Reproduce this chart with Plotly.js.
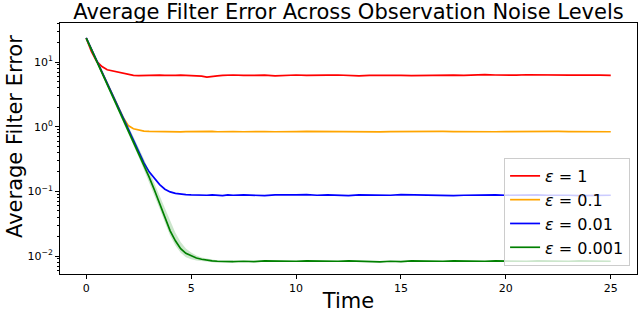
<!DOCTYPE html>
<html>
<head>
<meta charset="utf-8">
<script src="https://cdn.plot.ly/plotly-3.0.1.min.js"></script>
<style>html,body{margin:0;padding:0;background:#fff}#chart{width:640px;height:313px}</style>
</head>
<body>
<div id="chart"></div>
<script>
// Time grid
const time = [0,0.25,0.5,0.75,1,1.25,1.5,1.75,2,2.25,2.5,2.75,3,3.25,3.5,3.75,4,4.25,4.5,4.75,5,5.25,5.5,5.75,6,6.25,6.5,6.75,7,
  7.5,8,8.5,9,9.5,10,10.5,11,11.5,12,12.5,13,13.5,14,14.5,15,15.5,16,16.5,17,17.5,18,18.5,19,19.5,20,20.5,21,21.5,22,22.5,23,23.5,24,24.5,25];
const bandTime = [0,0.25,0.5,0.75,1,1.25,1.5,1.75,2,2.25,2.5,2.75,3,3.25,3.5,3.75,4,4.25,4.5,4.75,5,5.25,5.5,5.75,6,6.25,6.5,6.75,7];

const seriesNames = ["<i>ε</i> = 1", "<i>ε</i> = 0.1", "<i>ε</i> = 0.01", "<i>ε</i> = 0.001"];

const err1 = [23.4,14.5,10.2,8.5,7.6,7.3,7.0,6.6,6.3,6.2,6.15,6.2,6.1,6.2,6.25,6.2,6.15,6.2,6.25,6.2,6.1,6.2,6.05,5.85,5.9,6.1,6.2,6.25,6.3,
  6.2,6.3,6.25,6.1,6.2,6.3,6.2,6.15,6.25,6.3,6.2,6.1,6.2,6.25,6.3,6.2,6.15,6.2,6.3,6.35,6.25,6.2,6.3,6.4,6.3,6.2,6.25,6.35,6.3,6.4,6.3,6.25,6.3,6.2,6.25,6.2];
const err01 = [23.4,15.5,10.5,7.0,4.68,3.13,2.09,1.40,1.04,0.93,0.88,0.855,0.845,0.84,0.835,0.84,0.845,0.835,0.83,0.84,0.845,0.84,0.835,0.84,0.845,0.835,0.84,0.83,0.84,
  0.835,0.845,0.84,0.835,0.83,0.84,0.845,0.84,0.835,0.84,0.845,0.84,0.835,0.83,0.84,0.845,0.84,0.835,0.84,0.845,0.84,0.835,0.84,0.845,0.835,0.84,0.845,0.84,0.835,0.84,0.845,0.84,0.835,0.84,0.83,0.835];
const err001 = [23.6,15.7,10.6,7.1,4.75,3.17,2.12,1.40,0.92,0.61,0.41,0.275,0.20,0.16,0.127,0.108,0.098,0.093,0.09,0.089,0.088,0.087,0.088,0.087,0.088,0.087,0.086,0.088,0.087,
  0.088,0.087,0.086,0.088,0.087,0.088,0.089,0.087,0.088,0.087,0.086,0.088,0.087,0.088,0.087,0.089,0.088,0.087,0.088,0.087,0.086,0.087,0.088,0.087,0.088,0.087,0.088,0.089,0.088,0.087,0.088,0.087,0.086,0.087,0.088,0.087];
const err0001 = [23.4,15.5,10.5,7.0,4.68,3.13,2.09,1.38,0.91,0.60,0.40,0.257,0.166,0.105,0.066,0.040,0.0245,0.0172,0.0130,0.0110,0.0100,0.0093,0.0089,0.0086,0.0084,0.0083,0.0082,0.0083,0.0082,
  0.0083,0.0082,0.0084,0.0083,0.0082,0.0083,0.0084,0.0083,0.0082,0.0083,0.0084,0.0083,0.0082,0.0081,0.0083,0.0082,0.0084,0.0083,0.0082,0.0083,0.0084,0.0083,0.0082,0.0083,0.0084,0.0083,0.0082,0.0083,0.0084,0.0083,0.0082,0.0083,0.0084,0.0083,0.0082,0.0083];
const band0001Hi = [24.5,16.5,11.3,7.6,5.1,3.45,2.35,1.58,1.06,0.71,0.48,0.315,0.205,0.132,0.085,0.054,0.034,0.023,0.0165,0.0131,0.0113,0.0102,0.0095,0.0091,0.0088,0.0086,0.0085,0.0086,0.0085];
const band0001Lo = [22.5,14.8,9.9,6.5,4.3,2.85,1.88,1.22,0.80,0.52,0.34,0.215,0.137,0.086,0.054,0.033,0.0205,0.0145,0.0112,0.0096,0.0089,0.0085,0.0083,0.0081,0.0080,0.0079,0.0079,0.0079,0.0079];

const xTicks = [0,5,10,15,20,25];
const yTickVals = [0.01,0.1,1,10];
const yTickText = ["10<sup>−2</sup>","10<sup>−1</sup>","10<sup>0</sup>","10<sup>1</sup>"];
const yMinorVals = [0.006,0.007,0.008,0.009,0.02,0.03,0.04,0.05,0.06,0.07,0.08,0.09,0.2,0.3,0.4,0.5,0.6,0.7,0.8,0.9,2,3,4,5,6,7,8,9,20,30,40];

const colors = ["red","orange","blue","green"];
const values = [err1, err01, err001, err0001];

const traces = [];
for (let i = 0; i < 4; i++) {
  traces.push({x: time, y: values[i], mode: "lines", name: seriesNames[i], line: {color: colors[i], width: 1.7}});
}
traces.splice(3, 0,
  {x: bandTime, y: band0001Lo, mode: "lines", line: {width: 0, color: "rgba(0,128,0,0)"}, showlegend: false, hoverinfo: "skip"},
  {x: bandTime, y: band0001Hi, mode: "lines", line: {width: 0, color: "rgba(0,128,0,0)"}, fill: "tonexty", fillcolor: "rgba(0,128,0,0.2)", showlegend: false, hoverinfo: "skip"}
);

const axisFont = {family: "DejaVu Sans", size: 11, color: "#000"};
const titleFont = {family: "DejaVu Sans", size: 21, color: "#000"};
const layout = {
  width: 640, height: 313,
  margin: {l: 60, r: 3, t: 23, b: 39},
  paper_bgcolor: "#fff", plot_bgcolor: "#fff",
  font: {family: "DejaVu Sans", color: "#000"},
  title: {text: "Average Filter Error Across Observation Noise Levels", font: titleFont, x: 0.5, xref: "paper", y: 0.962, yref: "container", yanchor: "middle"},
  xaxis: {range: [-1.25, 26.25], tickvals: xTicks, ticks: "outside", ticklen: 4, tickcolor: "#000", showline: true, mirror: true, linecolor: "#000", linewidth: 1, showgrid: false, zeroline: false, tickfont: axisFont,
    title: {text: "Time", font: titleFont, standoff: 3}},
  yaxis: {type: "log", range: [-2.278, 1.603], tickvals: yTickVals, ticktext: yTickText, ticks: "outside", ticklen: 4, tickcolor: "#000", showline: true, mirror: true, linecolor: "#000", linewidth: 1, showgrid: false, zeroline: false, tickfont: axisFont,
    minor: {tickvals: yMinorVals, ticks: "outside", ticklen: 2, tickcolor: "#000", showgrid: false}},
  annotations: [{text: "Average Filter Error", textangle: -90, xref: "paper", yref: "paper", x: -0.078, y: 0.55, xanchor: "center", yanchor: "middle", showarrow: false, font: titleFont}],
  legend: {x: 0.988, xanchor: "right", y: 0.032, yanchor: "bottom", traceorder: "normal", bgcolor: "rgba(255,255,255,0.8)", bordercolor: "#ccc", borderwidth: 1, font: {family: "DejaVu Sans", size: 16, color: "#000"}},
  showlegend: true
};
Plotly.newPlot("chart", traces, layout, {staticPlot: true, displayModeBar: false});
</script>
</body>
</html>
